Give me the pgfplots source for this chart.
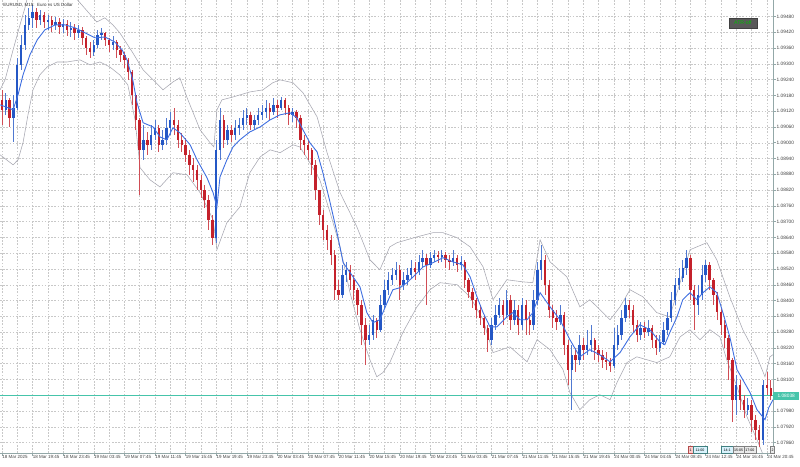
\documentclass[border=0pt]{standalone}
\usepackage{pgfplots}
\usepackage{pgfplotstable}
\pgfplotsset{compat=1.18}
\usepackage{fontspec}
\setmainfont{Liberation Sans}
\definecolor{upc}{HTML}{2457C5}
\definecolor{dnc}{HTML}{C4212B}
\definecolor{mac}{HTML}{3F6FE0}
\definecolor{bbc}{HTML}{A6A6B0}
\definecolor{gridc}{HTML}{C8C8C8}
\definecolor{axc}{HTML}{93A8A8}
\definecolor{cpc}{HTML}{46C4AA}
\newcommand\tinyfont{\fontsize{4.5}{5}\selectfont}
\newcommand\smallfont{\fontsize{4.8}{5.5}\selectfont}
\pgfplotsset{candle/.style={only marks, mark size=0pt, mark options={draw opacity=0, fill opacity=0}, restrict y to domain=1:1.2}}

\pgfplotstableread{
j o h l c
0 1.09163 1.09201 1.09068 1.09125
1 1.09125 1.09190 1.09106 1.09163
2 1.09163 1.09171 1.09060 1.09095
3 1.09095 1.09182 1.09003 1.09133
4 1.09133 1.09323 1.09125 1.09296
5 1.09296 1.09410 1.09277 1.09372
6 1.09372 1.09486 1.09353 1.09448
7 1.09448 1.09513 1.09429 1.09475
8 1.09475 1.09524 1.09437 1.09497
9 1.09497 1.09513 1.09437 1.09467
10 1.09467 1.09505 1.09448 1.09486
11 1.09486 1.09497 1.09437 1.09459
12 1.09459 1.09486 1.09429 1.09467
13 1.09467 1.09482 1.09421 1.09448
14 1.09448 1.09478 1.09429 1.09459
15 1.09459 1.09475 1.09414 1.09440
16 1.09440 1.09471 1.09418 1.09452
17 1.09452 1.09467 1.09406 1.09429
18 1.09429 1.09459 1.09402 1.09437
19 1.09437 1.09452 1.09391 1.09418
20 1.09418 1.09448 1.09399 1.09429
21 1.09429 1.09440 1.09372 1.09399
22 1.09399 1.09406 1.09334 1.09361
23 1.09361 1.09383 1.09323 1.09345
24 1.09345 1.09391 1.09330 1.09372
25 1.09372 1.09429 1.09361 1.09410
26 1.09410 1.09437 1.09391 1.09418
27 1.09418 1.09421 1.09368 1.09391
28 1.09391 1.09399 1.09345 1.09372
29 1.09372 1.09406 1.09353 1.09383
30 1.09383 1.09391 1.09323 1.09353
31 1.09353 1.09368 1.09307 1.09334
32 1.09334 1.09345 1.09285 1.09315
33 1.09315 1.09323 1.09239 1.09269
34 1.09269 1.09277 1.09144 1.09182
35 1.09182 1.09182 1.09049 1.09087
36 1.09087 1.09095 1.08802 1.08973
37 1.08973 1.09068 1.08935 1.09011
38 1.09011 1.09041 1.08954 1.08992
39 1.08992 1.09068 1.08973 1.09030
40 1.09030 1.09087 1.09011 1.09057
41 1.09057 1.09068 1.08965 1.08992
42 1.08992 1.09049 1.08973 1.09011
43 1.09011 1.09095 1.08992 1.09057
44 1.09057 1.09117 1.09030 1.09087
45 1.09087 1.09133 1.09030 1.09068
46 1.09068 1.09087 1.08981 1.09011
47 1.09011 1.09038 1.08965 1.08992
48 1.08992 1.09019 1.08927 1.08954
49 1.08954 1.08973 1.08878 1.08916
50 1.08916 1.08943 1.08851 1.08897
51 1.08897 1.08916 1.08821 1.08859
52 1.08859 1.08878 1.08791 1.08821
53 1.08821 1.08840 1.08753 1.08783
54 1.08783 1.08802 1.08669 1.08707
55 1.08707 1.08726 1.08612 1.08639
56 1.08639 1.09011 1.08620 1.08973
57 1.08973 1.09133 1.08935 1.09087
58 1.09087 1.09106 1.08981 1.09011
59 1.09011 1.09068 1.08992 1.09049
60 1.09049 1.09068 1.09003 1.09030
61 1.09030 1.09087 1.09011 1.09057
62 1.09057 1.09095 1.09030 1.09068
63 1.09068 1.09125 1.09049 1.09095
64 1.09095 1.09133 1.09068 1.09106
65 1.09106 1.09117 1.09049 1.09068
66 1.09068 1.09106 1.09049 1.09087
67 1.09087 1.09133 1.09068 1.09106
68 1.09106 1.09144 1.09087 1.09117
69 1.09117 1.09163 1.09095 1.09133
70 1.09133 1.09152 1.09087 1.09117
71 1.09117 1.09171 1.09106 1.09144
72 1.09144 1.09163 1.09095 1.09133
73 1.09133 1.09174 1.09125 1.09163
74 1.09163 1.09171 1.09106 1.09133
75 1.09133 1.09144 1.09068 1.09106
76 1.09106 1.09133 1.09079 1.09117
77 1.09117 1.09125 1.09057 1.09095
78 1.09095 1.09106 1.08973 1.09011
79 1.09011 1.09030 1.08954 1.08992
80 1.08992 1.09011 1.08935 1.08973
81 1.08973 1.08981 1.08878 1.08916
82 1.08916 1.08935 1.08783 1.08821
83 1.08821 1.08821 1.08688 1.08726
84 1.08726 1.08745 1.08631 1.08669
85 1.08669 1.08688 1.08593 1.08631
86 1.08631 1.08650 1.08536 1.08574
87 1.08574 1.08593 1.08403 1.08441
88 1.08441 1.08479 1.08403 1.08422
89 1.08422 1.08536 1.08411 1.08498
90 1.08498 1.08547 1.08471 1.08517
91 1.08517 1.08536 1.08441 1.08479
92 1.08479 1.08498 1.08403 1.08441
93 1.08441 1.08449 1.08346 1.08384
94 1.08384 1.08403 1.08232 1.08308
95 1.08308 1.08335 1.08156 1.08251
96 1.08251 1.08308 1.08232 1.08270
97 1.08270 1.08346 1.08251 1.08327
98 1.08327 1.08335 1.08259 1.08289
99 1.08289 1.08422 1.08281 1.08384
100 1.08384 1.08479 1.08373 1.08441
101 1.08441 1.08509 1.08422 1.08479
102 1.08479 1.08525 1.08460 1.08498
103 1.08498 1.08547 1.08479 1.08517
104 1.08517 1.08536 1.08403 1.08460
105 1.08460 1.08509 1.08441 1.08479
106 1.08479 1.08525 1.08460 1.08498
107 1.08498 1.08555 1.08487 1.08525
108 1.08525 1.08547 1.08479 1.08509
109 1.08509 1.08574 1.08498 1.08547
110 1.08547 1.08593 1.08525 1.08563
111 1.08563 1.08578 1.08384 1.08536
112 1.08536 1.08585 1.08525 1.08563
113 1.08563 1.08593 1.08547 1.08574
114 1.08574 1.08589 1.08544 1.08566
115 1.08566 1.08593 1.08547 1.08574
116 1.08574 1.08585 1.08525 1.08555
117 1.08555 1.08574 1.08517 1.08547
118 1.08547 1.08593 1.08532 1.08563
119 1.08563 1.08574 1.08509 1.08536
120 1.08536 1.08570 1.08517 1.08547
121 1.08547 1.08555 1.08449 1.08479
122 1.08479 1.08487 1.08411 1.08433
123 1.08433 1.08449 1.08373 1.08403
124 1.08403 1.08411 1.08335 1.08365
125 1.08365 1.08384 1.08308 1.08335
126 1.08335 1.08346 1.08270 1.08297
127 1.08297 1.08308 1.08205 1.08251
128 1.08251 1.08335 1.08232 1.08308
129 1.08308 1.08384 1.08289 1.08346
130 1.08346 1.08411 1.08335 1.08384
131 1.08384 1.08403 1.08308 1.08346
132 1.08346 1.08441 1.08335 1.08403
133 1.08403 1.08422 1.08289 1.08327
134 1.08327 1.08403 1.08308 1.08365
135 1.08365 1.08384 1.08270 1.08308
136 1.08308 1.08411 1.08289 1.08384
137 1.08384 1.08403 1.08270 1.08327
138 1.08327 1.08357 1.08270 1.08308
139 1.08308 1.08441 1.08289 1.08403
140 1.08403 1.08547 1.08384 1.08517
141 1.08517 1.08612 1.08479 1.08555
142 1.08555 1.08574 1.08422 1.08460
143 1.08460 1.08479 1.08335 1.08365
144 1.08365 1.08384 1.08297 1.08335
145 1.08335 1.08365 1.08289 1.08319
146 1.08319 1.08384 1.08308 1.08346
147 1.08346 1.08357 1.08194 1.08232
148 1.08232 1.08251 1.08080 1.08137
149 1.08137 1.08232 1.07985 1.08194
150 1.08194 1.08221 1.08129 1.08175
151 1.08175 1.08270 1.08156 1.08232
152 1.08232 1.08259 1.08175 1.08213
153 1.08213 1.08289 1.08194 1.08232
154 1.08232 1.08308 1.08205 1.08251
155 1.08251 1.08259 1.08175 1.08213
156 1.08213 1.08232 1.08167 1.08194
157 1.08194 1.08213 1.08145 1.08175
158 1.08175 1.08205 1.08137 1.08167
159 1.08167 1.08183 1.08129 1.08152
160 1.08152 1.08297 1.08145 1.08232
161 1.08232 1.08308 1.08213 1.08270
162 1.08270 1.08365 1.08251 1.08335
163 1.08335 1.08411 1.08319 1.08384
164 1.08384 1.08403 1.08335 1.08365
165 1.08365 1.08384 1.08281 1.08308
166 1.08308 1.08327 1.08243 1.08270
167 1.08270 1.08319 1.08251 1.08297
168 1.08297 1.08319 1.08259 1.08281
169 1.08281 1.08327 1.08266 1.08297
170 1.08297 1.08308 1.08221 1.08251
171 1.08251 1.08270 1.08194 1.08221
172 1.08221 1.08270 1.08205 1.08243
173 1.08243 1.08319 1.08232 1.08289
174 1.08289 1.08357 1.08270 1.08335
175 1.08335 1.08433 1.08319 1.08403
176 1.08403 1.08487 1.08384 1.08460
177 1.08460 1.08525 1.08441 1.08487
178 1.08487 1.08555 1.08471 1.08525
179 1.08525 1.08593 1.08498 1.08563
180 1.08563 1.08574 1.08403 1.08441
181 1.08441 1.08460 1.08289 1.08384
182 1.08384 1.08460 1.08346 1.08422
183 1.08422 1.08536 1.08403 1.08498
184 1.08498 1.08555 1.08471 1.08536
185 1.08536 1.08547 1.08441 1.08479
186 1.08479 1.08487 1.08384 1.08422
187 1.08422 1.08433 1.08327 1.08357
188 1.08357 1.08373 1.08270 1.08308
189 1.08308 1.08327 1.08221 1.08259
190 1.08259 1.08270 1.08099 1.08175
191 1.08175 1.08183 1.07939 1.08023
192 1.08023 1.08118 1.07966 1.08080
193 1.08080 1.08099 1.07985 1.08023
194 1.08023 1.08042 1.07955 1.07985
195 1.07985 1.08031 1.07966 1.08004
196 1.08004 1.08023 1.07901 1.07947
197 1.07947 1.07966 1.07871 1.07909
198 1.07909 1.07928 1.07844 1.07871
199 1.07871 1.08099 1.07852 1.08080
200 1.08080 1.08129 1.08042 1.08069
201 1.08069 1.08099 1.08023 1.08038
}\candles

\pgfplotstableread{
j p
-0.5 1.09144
1.6 1.09133
2.9 1.09125
4.2 1.09182
5.5 1.09258
7.3 1.09334
9.2 1.09391
11.2 1.09429
13.9 1.09448
16.5 1.09448
19.1 1.09437
21.7 1.09418
24.3 1.09399
26.9 1.09402
29.5 1.09383
31.4 1.09353
32.7 1.09315
34.2 1.09239
35.3 1.09152
36.9 1.09076
39.5 1.09060
41.3 1.09022
43.1 1.09011
44.7 1.09057
46.5 1.09038
49.2 1.08992
51 1.08935
53.6 1.08867
55.2 1.08810
56.2 1.08756
57 1.08870
58.8 1.08935
60.4 1.08984
62.2 1.09011
64.8 1.09041
67.5 1.09060
70.1 1.09087
72.7 1.09106
75.3 1.09114
77.1 1.09095
78.7 1.09049
80.5 1.09000
82.4 1.08965
83.9 1.08886
85.8 1.08772
87.6 1.08658
89.2 1.08544
91.8 1.08490
93.6 1.08452
95.4 1.08354
97 1.08316
98.8 1.08327
100.7 1.08392
102.2 1.08441
104.1 1.08449
105.9 1.08468
107.5 1.08490
110.1 1.08528
112.7 1.08544
115.3 1.08563
117.9 1.08547
120.5 1.08536
122.4 1.08490
124.2 1.08414
125.8 1.08354
127.6 1.08300
129.4 1.08300
132 1.08338
133.6 1.08354
135.4 1.08327
137.3 1.08327
138.8 1.08354
140.7 1.08430
143.3 1.08376
145.9 1.08327
148.5 1.08251
151.1 1.08186
153.7 1.08213
156.3 1.08194
159 1.08167
161.6 1.08202
164.2 1.08262
166.8 1.08308
169.4 1.08289
172 1.08243
173.3 1.08232
174.6 1.08278
176.5 1.08338
178 1.08403
179.9 1.08430
181.7 1.08403
183.3 1.08430
185.1 1.08452
186.9 1.08430
188.5 1.08354
190.3 1.08262
192.2 1.08137
193.7 1.08099
195.6 1.08050
197.4 1.07985
199.5 1.07947
200.5 1.07993
201.6 1.08023
}\mavg

\pgfplotstableread{
j p
-0.5 1.09201
0.8 1.09239
2.9 1.09353
4.7 1.09448
6.0 1.09513
6.8 1.09562
9.9 1.09619
15.2 1.09619
19.1 1.09554
20.4 1.09532
22.5 1.09497
24.8 1.09459
26.9 1.09475
29.0 1.09448
30.8 1.09418
34.2 1.09342
36.9 1.09277
39.5 1.09239
42.1 1.09201
44.7 1.09231
46.5 1.09247
48.4 1.09171
51.8 1.09049
54.4 1.09000
55.4 1.08984
56.2 1.09125
57.5 1.09163
60.4 1.09174
64.8 1.09193
68.2 1.09201
70.8 1.09228
72.7 1.09239
76.1 1.09228
78.7 1.09190
82.4 1.09098
85.0 1.08962
88.4 1.08810
92.8 1.08680
96.2 1.08555
98.8 1.08517
101.4 1.08604
103.3 1.08620
108.5 1.08642
112.7 1.08658
115.3 1.08658
119.0 1.08639
122.4 1.08604
125.8 1.08528
128.4 1.08403
132.0 1.08479
136.2 1.08471
138.8 1.08468
140.7 1.08631
143.3 1.08547
147.7 1.08490
151.1 1.08376
153.7 1.08403
159.0 1.08327
161.6 1.08376
164.2 1.08441
167.6 1.08414
171.2 1.08354
174.6 1.08338
177.3 1.08468
179.9 1.08593
184.3 1.08620
186.9 1.08555
190.3 1.08414
193.7 1.08289
197.4 1.08186
199.5 1.08110
200.8 1.08186
201.6 1.08194
}\upband

\pgfplotstableread{
j p
-0.5 1.08954
2.9 1.08916
4.2 1.08935
5.5 1.09000
6.8 1.09106
8.1 1.09201
9.9 1.09258
11.8 1.09288
14.4 1.09307
17.0 1.09307
20.4 1.09315
23.0 1.09296
25.6 1.09307
28.2 1.09288
30.8 1.09258
32.9 1.09220
34.8 1.09087
36.1 1.08905
38.7 1.08859
41.3 1.08832
44.7 1.08886
48.4 1.08878
51.8 1.08810
55.2 1.08707
56.2 1.08593
58.8 1.08696
62.2 1.08756
64.8 1.08886
67.5 1.08946
70.1 1.08973
72.7 1.08962
76.1 1.08992
77.9 1.08984
80.5 1.08924
83.1 1.08859
85.8 1.08734
88.4 1.08604
91.0 1.08430
93.6 1.08289
96.2 1.08175
98.0 1.08110
99.6 1.08126
101.4 1.08164
104.8 1.08278
108.5 1.08376
111.9 1.08441
114.5 1.08468
119.0 1.08460
122.4 1.08414
125.8 1.08327
128.4 1.08202
132.8 1.08224
137.3 1.08167
139.9 1.08251
143.3 1.08213
146.7 1.08137
148.5 1.08050
151.1 1.07985
153.7 1.08023
156.3 1.08042
159.0 1.08023
160.8 1.08088
163.4 1.08164
166.0 1.08186
168.6 1.08175
171.2 1.08164
174.6 1.08186
177.3 1.08262
179.9 1.08289
182.5 1.08251
185.1 1.08289
187.7 1.08262
189.5 1.08175
192.2 1.08072
194.8 1.07958
197.4 1.07871
199.0 1.07814
200.8 1.07757
}\loband

\begin{document}
\begin{tikzpicture}
\begin{axis}[
  scale only axis, width=773bp, height=453bp,
  xmin=-0.52, xmax=201.6, ymin=1.078203, ymax=1.095427,
  clip mode=individual,
  axis x line*=bottom, axis y line*=right,
  axis line style={axc, line width=0.9bp},
  tick align=outside, major tick length=2.5bp, minor tick length=0pt,
  tick style={axc, line width=0.5bp},
  xtick={0,8,...,200}, minor xtick={4,12,...,196},
  xticklabels={18 Mar 2025, 18 Mar 19:45, 18 Mar 23:45, 19 Mar 03:45, 19 Mar 07:45, 19 Mar 11:45, 19 Mar 15:45, 19 Mar 19:45, 19 Mar 23:45, 20 Mar 03:45, 20 Mar 07:45, 20 Mar 11:45, 20 Mar 15:45, 20 Mar 19:45, 20 Mar 23:45, 21 Mar 03:45, 21 Mar 07:45, 21 Mar 11:45, 21 Mar 15:45, 21 Mar 19:45, 24 Mar 00:45, 24 Mar 04:45, 24 Mar 08:45, 24 Mar 12:45, 24 Mar 16:45, 24 Mar 20:45},
  xticklabel style={anchor=north west, xshift=-0.6bp, yshift=0.8bp, font=\tinyfont, text=black!75, inner sep=0.8bp},
  ytick={1.0786,1.0792,1.0798,1.0804,1.0810,1.0816,1.0822,1.0828,1.0834,1.0840,1.0846,1.0852,1.0858,1.0864,1.0870,1.0876,1.0882,1.0888,1.0894,1.0900,1.0906,1.0912,1.0918,1.0924,1.0930,1.0936,1.0942,1.0948},
  yticklabels={1.07860,1.07920,1.07980,{},1.08100,1.08160,1.08220,1.08280,1.08340,1.08400,1.08460,1.08520,1.08580,1.08640,1.08700,1.08760,1.08820,1.08880,1.08940,1.09000,1.09060,1.09120,1.09180,1.09240,1.09300,1.09360,1.09420,1.09480},
  yticklabel style={font=\smallfont, text=black!75, inner sep=1bp},
  grid=both,
  major grid style={gridc, dash pattern=on 1.6bp off 1.6bp, line width=0.45bp},
  minor grid style={gridc, dash pattern=on 1.6bp off 1.6bp, line width=0.45bp},
]
% bands
\addplot[bbc, line width=0.55bp, mark=none] table[x=j, y=p]{\upband};
\addplot[bbc, line width=0.55bp, mark=none] table[x=j, y=p]{\loband};
% current price line
\addplot[cpc, line width=1bp, mark=none] coordinates {(-0.52,1.08038) (201.6,1.08038)};
% wicks
\addplot[candle,
  error bars/.cd, y dir=both, y explicit, error mark=none,
  error bar style={line width=0.7bp, color=dnc!80}]
  table[x=j, y expr={\thisrow{c}<\thisrow{o} ? (\thisrow{h}+\thisrow{l})/2 : 5},
        y error expr={(\thisrow{h}-\thisrow{l})/2}]{\candles};
\addplot[candle,
  error bars/.cd, y dir=both, y explicit, error mark=none,
  error bar style={line width=0.7bp, color=upc!80}]
  table[x=j, y expr={\thisrow{c}<\thisrow{o} ? 5 : (\thisrow{h}+\thisrow{l})/2},
        y error expr={(\thisrow{h}-\thisrow{l})/2}]{\candles};
% bodies
\addplot[candle,
  error bars/.cd, y dir=both, y explicit, error mark=none,
  error bar style={line width=2.4bp, color=dnc}]
  table[x=j, y expr={\thisrow{c}<\thisrow{o} ? (\thisrow{o}+\thisrow{c})/2 : 5},
        y error expr={max(abs(\thisrow{c}-\thisrow{o})/2,0.000012)}]{\candles};
\addplot[candle,
  error bars/.cd, y dir=both, y explicit, error mark=none,
  error bar style={line width=2.4bp, color=upc}]
  table[x=j, y expr={\thisrow{c}<\thisrow{o} ? 5 : (\thisrow{o}+\thisrow{c})/2},
        y error expr={max(abs(\thisrow{c}-\thisrow{o})/2,0.000012)}]{\candles};
% moving average
\addplot[mac, line width=0.9bp, mark=none] table[x=j, y=p]{\mavg};
% annotations
\node[anchor=west, fill=cpc, text=white, font=\smallfont, inner sep=1bp, minimum height=8bp, minimum width=26bp] at (axis cs:201.6,1.08038) {1.08038};
\node[anchor=north west, font=\tinyfont, text=black!80, inner sep=0pt] at (rel axis cs:0.004,0.993) {EURUSD, M15:\ \ Euro vs US Dollar};
\node[draw=black!75, fill=black!65, text=green!75!black, font=\fontsize{5.2}{6}\selectfont, minimum width=28bp, minimum height=10bp, inner sep=0pt] at (rel axis cs:0.961,0.949) {ATR-off};
\node[draw=red!40!gray, fill=red!20, font=\fontsize{3.6}{4}\selectfont, minimum width=5bp, minimum height=7bp, inner sep=0pt] at (rel axis cs:0.8933,0.0066) {1};
\node[draw=teal!50!gray, fill=cyan!15, font=\fontsize{3.6}{4}\selectfont, minimum width=14bp, minimum height=7bp, inner sep=0pt] at (rel axis cs:0.9056,0.0066) {11:00};
\node[draw=teal!50!gray, fill=cyan!15, font=\fontsize{3.6}{4}\selectfont, minimum width=12bp, minimum height=7bp, inner sep=0pt] at (rel axis cs:0.9405,0.0066) {14:1};
\node[draw=gray, fill=black!8, font=\fontsize{3.6}{4}\selectfont, minimum width=11bp, minimum height=7bp, inner sep=0pt] at (rel axis cs:0.9554,0.0066) {15:05};
\node[draw=gray, fill=black!8, font=\fontsize{3.6}{4}\selectfont, minimum width=12bp, minimum height=7bp, inner sep=0pt] at (rel axis cs:0.9702,0.0066) {17:00};
\node[draw=gray, fill=black!8, font=\fontsize{3.6}{4}\selectfont, minimum width=4bp, minimum height=7bp, inner sep=0pt] at (rel axis cs:0.9994,0.0066) {2};
\end{axis}
\pgfresetboundingbox
\path ([yshift=-14bp]current axis.south west) rectangle ([xshift=27bp]current axis.north east);
\end{tikzpicture}
\end{document}
